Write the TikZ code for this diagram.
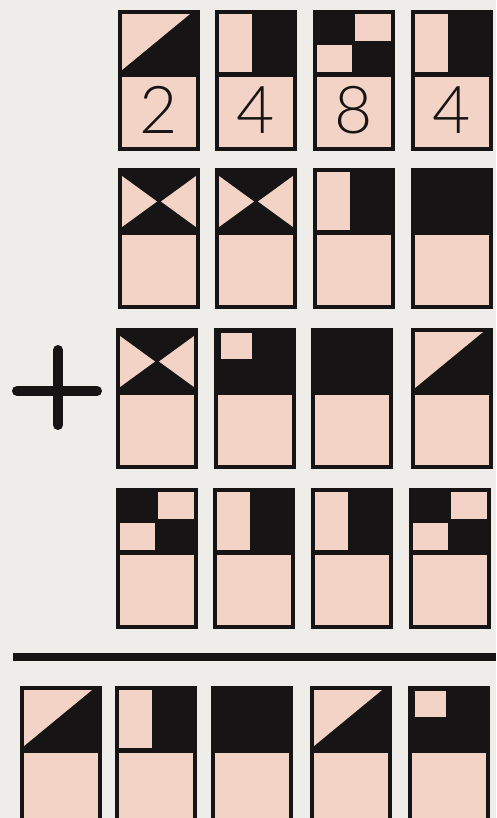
\documentclass[tikz,border=0pt]{standalone}
\usepackage{fontspec}
\setmainfont{Liberation Sans}
\newfontfamily\thinf{Lato Light}
\definecolor{pinkc}{HTML}{F2D3C6}
\definecolor{inkc}{HTML}{161414}
\definecolor{paperc}{HTML}{EEEDEA}
\newcommand\cardframe{%
  \fill[pinkc] (0,63) rectangle (78,137);
  \draw[framel] (0,0) rectangle (78,137);
  \draw[framel] (0,63) -- (78,63);}
\newcommand\topblack{\fill[inkc] (0,0) rectangle (78,63);}
\tikzset{
  framel/.style={draw=inkc, line width=3.6pt, line join=miter},
  digit/.style={inner sep=0pt, text=inkc, font=\thinf\fontsize{66}{66}\selectfont},
  barl/.style={draw=inkc, line width=10pt, line cap=round},
  diagc/.pic={\topblack
    \fill[pinkc] (2,2) -- (70,2) -- (2,58) -- cycle; \cardframe},
  vbarc/.pic={\topblack
    \fill[pinkc] (2,2) rectangle (35,60); \cardframe},
  checkc/.pic={\topblack
    \fill[pinkc] (40,2) rectangle (76,29);
    \fill[pinkc] (2,33) rectangle (37,60); \cardframe},
  hourc/.pic={\topblack
    \fill[pinkc] (2,6) -- (37,31.5) -- (2,57) -- cycle;
    \fill[pinkc] (76,6) -- (41,31.5) -- (76,57) -- cycle; \cardframe},
  sqc/.pic={\topblack
    \fill[pinkc] (5,3) rectangle (36,29); \cardframe},
  blackc/.pic={\topblack \cardframe}
}
\begin{document}
\begin{tikzpicture}[x=1pt,y=-1pt]
\useasboundingbox (0,0) rectangle (496,818);
\fill[paperc] (0,0) rectangle (496,818);
\begin{scope}
\clip (0,0) rectangle (496,818);
% row 1
\pic (a1) at (120,12) {diagc};
\pic (a2) at (217,12) {vbarc};
\pic (a3) at (315,12) {checkc};
\pic (a4) at (413,12) {vbarc};
\node[digit] (d1) at (159,110) {2};
\node[digit] (d2) at (256,110) {4};
\node[digit] (d3) at (354,110) {8};
\node[digit] (d4) at (452,110) {4};
% row 2
\pic (b1) at (120,170) {hourc};
\pic (b2) at (217,170) {hourc};
\pic (b3) at (315,170) {vbarc};
\pic (b4) at (413,170) {blackc};
% row 3
\pic (c1) at (118,330) {hourc};
\pic (c2) at (216,330) {sqc};
\pic (c3) at (313,330) {blackc};
\pic (c4) at (413,330) {diagc};
% plus sign
\coordinate (pl) at (17,391);
\coordinate (pr) at (97,391);
\coordinate (pt) at (58,350);
\coordinate (pb) at (58,425);
\draw[barl] (pl) -- (pr);
\draw[barl] (pt) -- (pb);
% row 4
\pic (e1) at (118,490) {checkc};
\pic (e2) at (215,490) {vbarc};
\pic (e3) at (313,490) {vbarc};
\pic (e4) at (411,490) {checkc};
% rule
\coordinate (rl) at (13,657);
\coordinate (rr) at (496,657);
\draw[draw=inkc, line width=8pt] (rl) -- (rr);
% row 5
\pic (f1) at (22,688) {diagc};
\pic (f2) at (117,688) {vbarc};
\pic (f3) at (213,688) {blackc};
\pic (f4) at (312,688) {diagc};
\pic (f5) at (410,688) {sqc};
\end{scope}
\end{tikzpicture}
\end{document}
